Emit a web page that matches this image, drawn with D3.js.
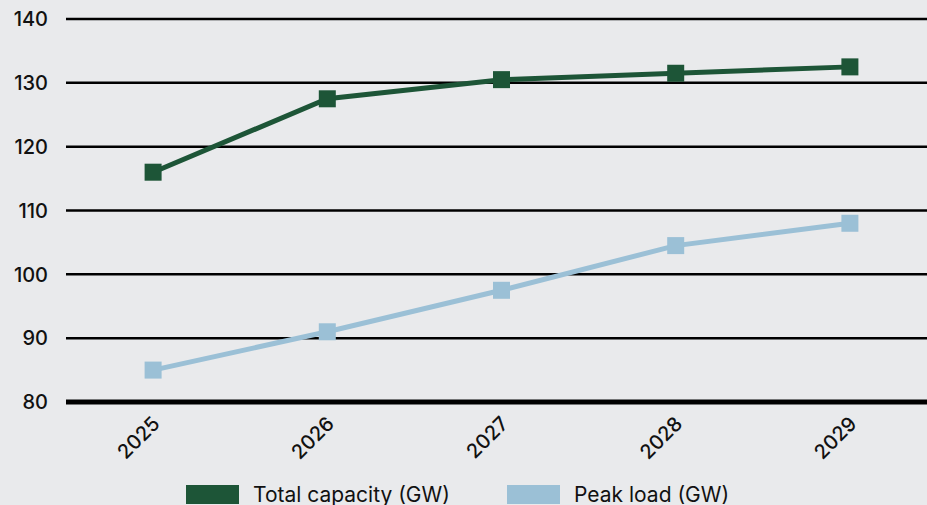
<!DOCTYPE html>
<html>
<head>
<meta charset="utf-8">
<script src="https://cdn.jsdelivr.net/npm/d3@7"></script>
<style>
  html, body { margin: 0; padding: 0; background: #e9eaec; }
  svg { display: block; font-family: Inter, "DejaVu Sans", sans-serif; }
</style>
</head>
<body>
<div id="chart"></div>
<script>
// data
const years = ['2025', '2026', '2027', '2028', '2029'];
const total_capacity = [116, 127.5, 130.5, 131.5, 132.5];
const peak_load = [85, 91, 97.5, 104.5, 108];
const y_ticks = [80, 90, 100, 110, 120, 130, 140];
const series_names = ['Total capacity (GW)', 'Peak load (GW)'];
const series_colors = ['#1d5537', '#9bc0d6'];

const W = 927, H = 505;

const svg = d3.select('#chart')
    .append('svg')
    .attr('width', W)
    .attr('height', H);

svg.append('rect')
    .attr('width', W).attr('height', H)
    .attr('fill', '#e9eaec');

const x = d3.scalePoint()
    .domain(years)
    .range([66, 937])
    .padding(0.5);

const y = d3.scaleLinear()
    .domain([80, 140])
    .range([402, 19]);

// grid
const grid = svg.append('g');
y_ticks.forEach(t => {
    grid.append('line')
        .attr('x1', 66).attr('x2', W)
        .attr('y1', y(t)).attr('y2', y(t))
        .attr('stroke', '#000')
        .attr('stroke-width', t === 80 ? 5 : 2.5);
});

// y labels
svg.append('g')
    .selectAll('text')
    .data(y_ticks)
    .join('text')
    .attr('x', 48)
    .attr('y', d => y(d))
    .attr('dy', '0.36em')
    .attr('text-anchor', 'end')
    .attr('font-size', 20)
    .attr('font-weight', 500)
    .attr('fill', '#111')
    .text(d => d);

// x labels
svg.append('g')
    .selectAll('text')
    .data(years)
    .join('text')
    .attr('transform', d => `translate(${x(d) + 8},${425}) rotate(-45)`)
    .attr('text-anchor', 'end')
    .attr('font-size', 20)
    .attr('font-weight', 500)
    .attr('fill', '#111')
    .text(d => d);

// lines
const line = d3.line()
    .x((d, i) => x(years[i]))
    .y(d => y(d));

[total_capacity, peak_load].forEach((vals, k) => {
    svg.append('path')
        .datum(vals)
        .attr('d', line)
        .attr('fill', 'none')
        .attr('stroke', series_colors[k])
        .attr('stroke-width', 5);
    svg.append('g')
        .selectAll('rect')
        .data(vals)
        .join('rect')
        .attr('x', (d, i) => x(years[i]) - 8.5)
        .attr('y', d => y(d) - 8.5)
        .attr('width', 17)
        .attr('height', 17)
        .attr('fill', series_colors[k]);
});

// legend
const legend_x = [186, 507];
series_names.forEach((name, k) => {
    svg.append('rect')
        .attr('x', legend_x[k]).attr('y', 485)
        .attr('width', 53).attr('height', 19)
        .attr('fill', series_colors[k]);
    svg.append('text')
        .attr('x', legend_x[k] + 67)
        .attr('y', 502)
        .attr('font-size', 21)
        .attr('fill', '#111')
        .text(name);
});
</script>
</body>
</html>
